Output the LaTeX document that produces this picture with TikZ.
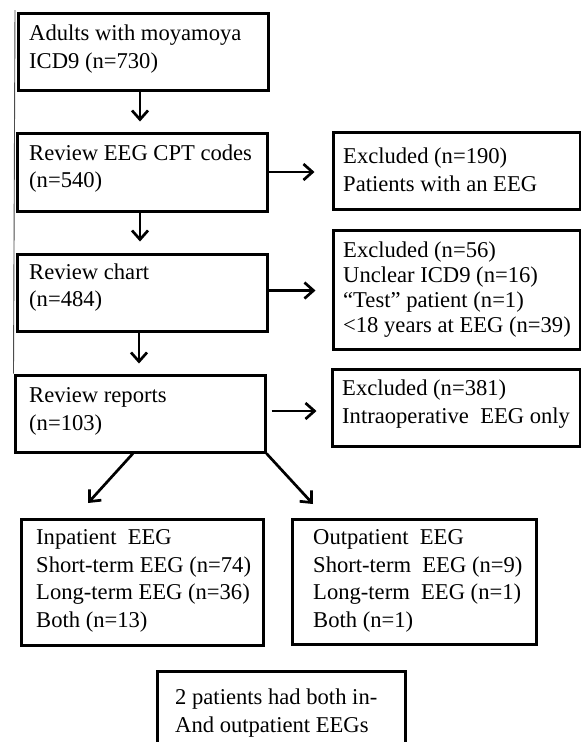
\documentclass[tikz,border=0pt]{standalone}
\usepackage{fontspec}
\setmainfont{Liberation Serif}
\usetikzlibrary{arrows.meta,calc}
\begin{document}
\begin{tikzpicture}[x=1pt,y=-1pt,
  box/.style={draw, line width=3pt, rectangle, inner sep=0pt},
  txt/.style={anchor=west, align=left, inner sep=0pt, font=\fontsize{22.6}{27.5}\selectfont},
  txtb/.style={anchor=west, align=left, inner sep=0pt, font=\fontsize{22.6}{25}\selectfont},
  arr/.style={line width=2.7pt, -{Straight Barb[length=9pt,width=16pt,line width=2.7pt]}}]
\useasboundingbox (0,0) rectangle (581,742);
\clip (0,0) rectangle (581,742);
\fill[white] (0,0) rectangle (581,742);

% left column boxes
\node[box, minimum width=250pt, minimum height=77pt] (b1) at (143,51.5) {};
\node[box, minimum width=250pt, minimum height=78pt] (b2) at (142,172) {};
\node[box, minimum width=250pt, minimum height=77pt] (b3) at (142,292.5) {};
\node[box, minimum width=250pt, minimum height=77pt] (b4) at (140,413.5) {};
% exclusion boxes
\node[box, minimum width=247pt, minimum height=77pt] (e1) at (456.5,170.5) {};
\node[box, minimum width=247pt, minimum height=119pt] (e2) at (456.5,289.5) {};
\node[box, minimum width=248pt, minimum height=77pt] (e3) at (456,407.5) {};
% bottom boxes
\node[box, minimum width=242pt, minimum height=126pt] (inb) at (142,582) {};
\node[box, minimum width=244pt, minimum height=125pt] (outb) at (414,581.5) {};
\node[box, minimum width=248pt, minimum height=84pt] (bot) at (281,713) {};

% texts
\node[txt] (t1) at (29,49) {Adults with moyamoya\\ICD9 (n=730)};
\node[txt] (t2) at (29,168.5) {Review EEG CPT codes\\(n=540)};
\node[txt] (t3) at (29,287.5) {Review chart\\(n=484)};
\node[txt] (t4) at (29,411.5) {Review reports\\(n=103)};
\node[txt] (te1) at (343,170) {Excluded (n=190)\\Patients with an EEG};
\node[txtb] (te2) at (343,289.5) {Excluded (n=56)\\Unclear ICD9 (n=16)\\“Test” patient (n=1)\\<18 years at EEG (n=39)};
\node[txt] (te3) at (342,404) {Excluded (n=381)\\Intraoperative\ \ EEG only};
\node[txt] (tin) at (36,581) {Inpatient\ \ EEG\\Short-term\ EEG (n=74)\\Long-term\ EEG (n=36)\\Both (n=13)};
\node[txt] (tout) at (313,581) {Outpatient\ \ EEG\\Short-term\ \ EEG (n=9)\\Long-term\ \ EEG (n=1)\\Both (n=1)};
\node[txt] (tbot) at (175,713) {2 patients had both in-\\And outpatient EEGs};

% thin left edge line
\coordinate (ltop) at (15,10);
\draw[line width=0.9pt, black!70] (ltop) -- (b4.north west);

% arrow start points
\coordinate (s1) at ($(b1.south)+(-3,0)$);
\coordinate (s2) at ($(b2.south)+(-2,0)$);
\coordinate (s3) at ($(b3.south)+(-3,0)$);
\coordinate (h3) at ($(b3.east)+(0,-2)$);
\coordinate (h4) at ($(b4.east)+(0,-2.5)$);
\coordinate (d4) at ($(b4.south west)!0.472!(b4.south east)$);

% vertical arrows
\draw[arr, shorten >=10pt] (s1) -- (s1 |- b2.north);
\draw[arr, shorten >=11pt] (s2) -- (s2 |- b3.north);
\draw[arr, shorten >=10pt] (s3) -- (s3 |- b4.north);

% horizontal arrows
\draw[arr, shorten >=17pt] (b2.east) -- (b2.east -| e1.west);
\draw[arr, shorten >=16pt] (h3) -- (h3 -| e2.west);
\draw[arr, shorten <=5pt, shorten >=14pt] (h4) -- (h4 -| e3.west);

% diagonal arrows
\coordinate (tipL) at (88,503);
\coordinate (tipR) at (313,504);
\draw[arr] (d4) -- (tipL);
\draw[arr] (b4.south east) -- (tipR);
\end{tikzpicture}
\end{document}
